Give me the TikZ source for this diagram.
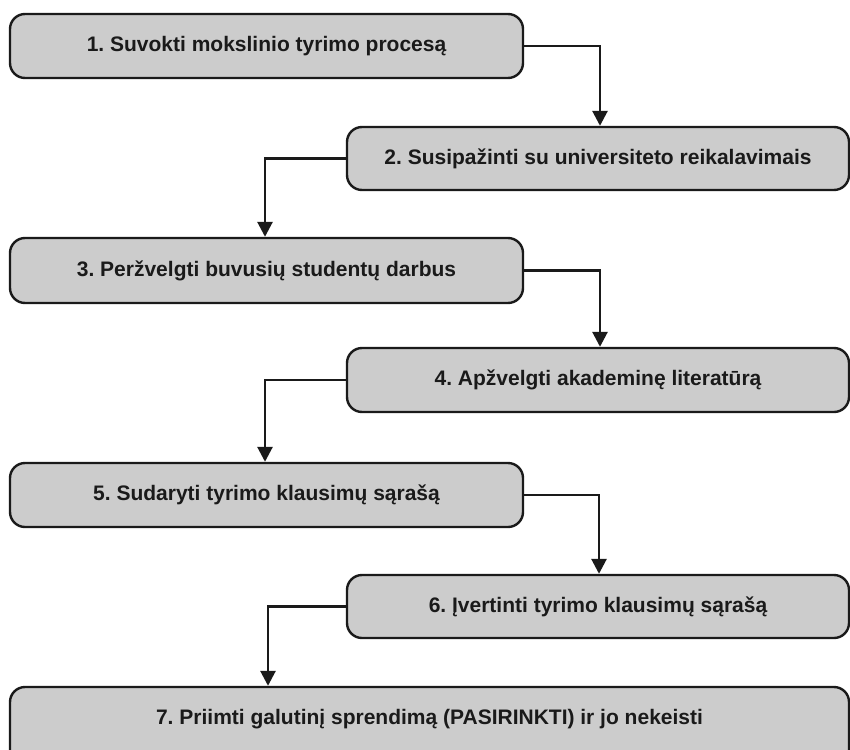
\documentclass[tikz,border=0pt]{standalone}
\usepackage{fontspec}
\setmainfont{Liberation Sans}
\frenchspacing
\usetikzlibrary{arrows.meta}
\definecolor{boxfill}{HTML}{CCCCCC}
\definecolor{ink}{HTML}{1A1A1A}
\tikzset{
  stepbox/.style={draw=ink, line width=2.4pt, fill=boxfill, rounded corners=15pt,
    inner sep=0pt, font=\fontsize{21}{24}\selectfont\bfseries, text=ink},
  flow/.style={draw=ink, line width=2.8pt,
    -{Triangle[length=15pt,width=15pt]}},
}
\begin{document}
\begin{tikzpicture}[x=1pt,y=-1pt]
\useasboundingbox (0,0) rectangle (850,749);
% left column boxes
\node[stepbox, minimum width=513pt, minimum height=64pt] (s1) at (266.5,46) {1. Suvokti mokslinio tyrimo procesą};
\node[stepbox, minimum width=513pt, minimum height=65pt] (s3) at (266.5,270.5) {3. Peržvelgti buvusių studentų darbus};
\node[stepbox, minimum width=513pt, minimum height=64pt] (s5) at (266.5,495) {5. Sudaryti tyrimo klausimų sąrašą};
% right column boxes
\node[stepbox, minimum width=502pt, minimum height=63pt] (s2) at (598,158.5) {2. Susipažinti su universiteto reikalavimais};
\node[stepbox, minimum width=502pt, minimum height=64pt] (s4) at (598,380) {4. Apžvelgti akademinę literatūrą};
\node[stepbox, minimum width=502pt, minimum height=63pt] (s6) at (598,606.5) {6. Įvertinti tyrimo klausimų sąrašą};
% final wide box
\node[stepbox, minimum width=839pt, minimum height=78pt, text depth=18pt] (s7) at (429.5,726) {7. Priimti galutinį sprendimą (PASIRINKTI) ir jo nekeisti};
% connectors
\draw[flow] (s1.east) -| (s2.north -| 600,0);
\draw[flow] (s2.west) -| (s3.north -| 265,0);
\draw[flow] (s3.east) -| (s4.north -| 600,0);
\draw[flow] (s4.west) -| (s5.north -| 265,0);
\draw[flow] (s5.east) -| (s6.north -| 599,0);
\draw[flow] (s6.west) -| (s7.north -| 268,0);
\end{tikzpicture}
\end{document}
